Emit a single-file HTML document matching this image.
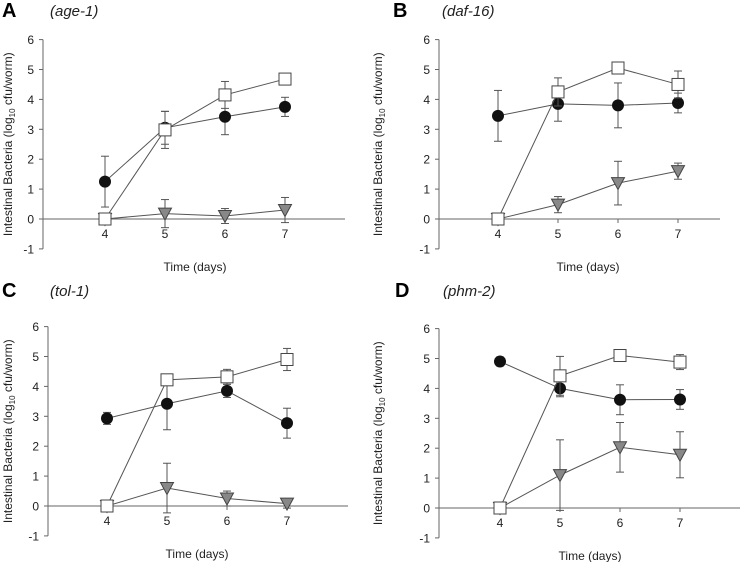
<!DOCTYPE html>
<html><head><meta charset="utf-8"><style>
body{margin:0;background:#fff;width:740px;height:562px;overflow:hidden}
svg{display:block;font-family:"Liberation Sans",sans-serif}
</style></head><body>
<svg id="fig" width="740" height="562"></svg>
<script>
const days=[4,5,6,7];
const yTicks=[-1,0,1,2,3,4,5,6];
const panelLetters=["A","B","C","D"];
const panelGenes=["(age-1)","(daf-16)","(tol-1)","(phm-2)"];
const circA=[1.25,3.05,3.42,3.75], circAErr=[0.85,0.55,0.6,0.32];
const sqA=[0,2.98,4.15,4.68], sqAErr=[0,0.62,0.45,0];
const triA=[0,0.18,0.1,0.3], triAErr=[0,0.47,0.25,0.42];
const circB=[3.45,3.85,3.8,3.88], circBErr=[0.85,0.58,0.75,0.33];
const sqB=[0,4.25,5.05,4.5], sqBErr=[0,0.47,0.2,0.45];
const triB=[0,0.48,1.2,1.6], triBErr=[0,0.27,0.73,0.27];
const circC=[2.93,3.42,3.85,2.77], circCErr=[0.2,0.87,0.22,0.5];
const sqC=[0,4.22,4.32,4.9], sqCErr=[0,0.18,0.25,0.37];
const triC=[0,0.6,0.25,0.08], triCErr=[0,0.83,0.25,0.15];
const circD=[4.9,4.0,3.62,3.63], circDErr=[0.15,0.28,0.5,0.33];
const sqD=[0,4.42,5.1,4.88], sqDErr=[0,0.65,0,0.25];
const triD=[0,1.1,2.03,1.78], triDErr=[0,1.18,0.83,0.77];
const series=[[circA,circAErr,sqA,sqAErr,triA,triAErr],[circB,circBErr,sqB,sqBErr,triB,triBErr],[circC,circCErr,sqC,sqCErr,triC,triCErr],[circD,circDErr,sqD,sqDErr,triD,triDErr]];
const layout=[{ax:43,x4:105,y0:219,end:345,top:0,left:0,lx:2,gx:50},{ax:439,x4:498,y0:219,end:720,top:0,left:370,lx:393,gx:442},{ax:48,x4:107,y0:506,end:348,top:280,left:0,lx:2,gx:50},{ax:439,x4:500,y0:508,end:740,top:280,left:370,lx:395,gx:443}];
const NS="http://www.w3.org/2000/svg";
const svg=document.getElementById('fig');
function mk(tag,attrs,parent,text){const e=document.createElementNS(NS,tag);for(const k in attrs)e.setAttribute(k,attrs[k]);if(text!==undefined)e.textContent=text;parent.appendChild(e);return e;}
layout.forEach((L,p)=>{
  const g=mk('g',{},svg);
  
  
  const unit=29.9, step=60;
  const X=d=>L.x4+(d-4)*step, Y=v=>L.y0-v*unit;
  const lt=mk('text',{x:L.lx,y:L.top+17,'font-size':20,'font-weight':'bold'},g,panelLetters[p]);
  
  const gt=mk('text',{x:L.gx,y:L.top+16,'font-size':15,'font-style':'italic',fill:'#222'},g,panelGenes[p]);
  
  const ya=mk('line',{x1:L.ax,x2:L.ax,y1:Y(6),y2:Y(-1),stroke:'#666'},g);
  
  yTicks.forEach(t=>{mk('line',{x1:L.ax-4,x2:L.ax,y1:Y(t),y2:Y(t),stroke:'#666'},g);
    const tl=mk('text',{x:L.ax-9,y:Y(t)+4.5,'font-size':12,'text-anchor':'end',fill:'#222'},g,String(t));
    });
  const xa=mk('line',{x1:L.ax,x2:L.end,y1:Y(0),y2:Y(0),stroke:'#666'},g);
  
  days.forEach(d=>{mk('line',{x1:X(d),x2:X(d),y1:Y(0),y2:Y(0)+4,stroke:'#666'},g);
    const tl=mk('text',{x:X(d),y:Y(0)+19,'font-size':12,'text-anchor':'middle',fill:'#222'},g,String(d));
    });
  const xt=mk('text',{x:X(5.5),y:Y(-1)+22,'font-size':12,'text-anchor':'middle',fill:'#222'},g,'Time (days)');
  
  const yt=mk('text',{transform:`translate(${L.left+12},${Y(2.5)}) rotate(-90)`,'font-size':12,'text-anchor':'middle',fill:'#222'},g);
  
  yt.appendChild(document.createTextNode('Intestinal Bacteria (log'));
  mk('tspan',{'font-size':8,dy:3},yt,'10');
  mk('tspan',{dy:-3},yt,' cfu/worm)');
  const S=series[p];
  const kinds=['tri','circle','square'];
  const idx={circle:0,square:2,tri:4};
  kinds.forEach(k=>{
    const vals=S[idx[k]], errs=S[idx[k]+1];
    const sg=mk('g',{},g);
    
    vals.forEach((v,i)=>{if(errs[i]>0){const x=X(days[i]);
      mk('line',{x1:x,x2:x,y1:Y(v-errs[i]),y2:Y(v+errs[i]),stroke:'#555'},sg);
      mk('line',{x1:x-4,x2:x+4,y1:Y(v-errs[i]),y2:Y(v-errs[i]),stroke:'#555'},sg);
      mk('line',{x1:x-4,x2:x+4,y1:Y(v+errs[i]),y2:Y(v+errs[i]),stroke:'#555'},sg);}});
    mk('polyline',{points:vals.map((v,i)=>X(days[i])+','+Y(v)).join(' '),fill:'none',stroke:'#555','stroke-width':1},sg);
    vals.forEach((v,i)=>{const x=X(days[i]),y=Y(v);let m;
      if(k==='circle')m=mk('circle',{cx:x,cy:y,r:6,fill:'#111'},sg);
      else if(k==='square')m=mk('rect',{x:x-6,y:y-6,width:12,height:12,fill:'#fff',stroke:'#444'},sg);
      else m=mk('polygon',{points:`${x-6.5},${y-5.5} ${x+6.5},${y-5.5} ${x},${y+6.5}`,fill:'#888',stroke:'#444'},sg);
      });
  });
});
</script>
</body></html>
